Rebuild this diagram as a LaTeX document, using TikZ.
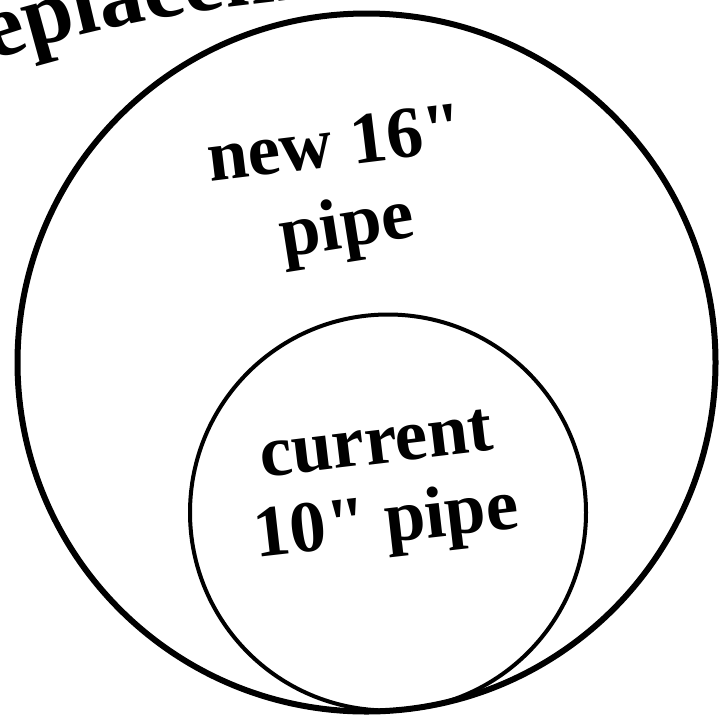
\documentclass[tikz,border=0pt]{standalone}
\usepackage{fontspec}
\newfontfamily\labfont{Liberation Serif}
\usetikzlibrary{decorations.text}
\tikzset{
  pipeline/.style={line width=#1, draw=black},
  label/.style={font=\labfont\fontsize{73}{82}\selectfont\bfseries, inner sep=0pt, anchor=base},
}
\begin{document}
\begin{tikzpicture}[x=1pt,y=-1pt]
\useasboundingbox[fill=white] (0,0) rectangle (719,718);
\clip (0,0) rectangle (719,718);
% title along an arc (clipped at the top edge)
\path[decorate, decoration={text along path, text align=left,
  text={|\labfont\fontsize{90}{90}\selectfont\bfseries|Replacement}}]
  (-68,84) .. controls (60,30) and (200,2) .. (440,-12);
% pipes
\coordinate (bigc) at (366.5,362.5);
\coordinate (smallc) at (388,512.5);
\draw[pipeline=6pt] (bigc) circle[radius=349];
\draw[pipeline=4pt] (smallc) circle[radius=198];
% labels
\node[label, rotate=7] (new) at (338,166) {new 16"};
\node[label, rotate=9] (newpipe) at (350,247) {pipe};
\node[label, rotate=6.8] (cur) at (378.5,463.7) {current};
\node[label, rotate=6.5] (curpipe) at (388.5,542.7) {10" pipe};
\end{tikzpicture}
\end{document}
